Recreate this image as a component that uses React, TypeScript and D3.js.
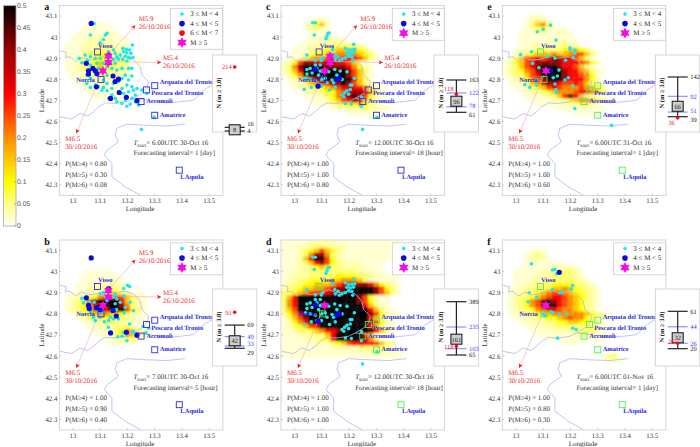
import * as React from "react"
import * as d3 from "d3"

type Pt = [number, number]

const lonTicks = [13, 13.1, 13.2, 13.3, 13.4, 13.5]
const latTicks = [42.3, 42.4, 42.5, 42.6, 42.7, 42.8, 42.9, 43, 43.1]
const barTicks = [0, 0.05, 0.1, 0.15, 0.2, 0.25, 0.3, 0.35, 0.4, 0.45, 0.5]
const barColors = ["#fffff2", "#ffff88", "#ffff00", "#ffc800", "#ff8c00", "#ff4600", "#ff0000", "#c80000", "#960000", "#500000", "#000000"]

// heat level per character of the grid rows below
const heatLevels: Record<string, number> = {
  ".": 0, "1": 0.016, "2": 0.035, "3": 0.06, "4": 0.1, "5": 0.15, "6": 0.2, "7": 0.25, "8": 0.3, "9": 0.4, "#": 0.5,
}

// rows run from lat 43.15 downwards, columns from lon 12.95, 0.02 deg per cell
const heatA = [
  "", "", "", "",
  ".....1111",
  "....111111",
  "...11111111",
  "..1112222211",
  "..11122222111",
  ".111222332221",
  ".111223333221",
  ".111233443322",
  ".112334443332.1",
  ".112334544433.1",
  ".112334544332",
  ".112234433322",
  "..11223332221",
  "..1122222221",
  "...111222111",
  "....11211111",
  ".....1111111",
  "......111111",
  "........1111",
]
const heatB = [
  "", "", "", "", "", "", "",
  ".....11111",
  "....1111111",
  "....11111111",
  "...1111222211",
  "...1122233321",
  "..1112233443211",
  ".112234678875321",
  ".123479####85321",
  ".123468####96321",
  ".12345788###7431",
  "..12345665543211",
  "...1233444332211",
  "....112233322111",
  ".....1122233321",
  "......11223465321",
  ".......1123465321",
  "........1122332",
  ".........1111",
]
const heatC = [
  "", "", "",
  ".....1221",
  "....12452",
  "....12321",
  ".....1111",
  ".....111211",
  "....11222222",
  "...1122233333321",
  "..111233445555431",
  "..1123445566665431",
  ".11235667888887531",
  "1247998899887531",
  "2369####999986421",
  "1358########97531",
  "1246########97531",
  ".123579######8531",
  ".1123567899#975321",
  "..11234456788886421",
  "...1122344678998531",
  "....111234689#97421",
  ".....11124578985321",
  "......1112344454321",
  ".........11122232211",
  "............1111111",
  "................11",
]
const heatD = [
  "1111122222111111111111",
  "1112223332221111111111",
  "11123457543211111111",
  "11123699632111111111",
  "111258##7422111111111",
  "1112358974322221111",
  "111223454332222111",
  "1122233333333322211",
  "1122233333444433221111",
  "122334444556665321111",
  "2233445556789999864321",
  "233455667899#####97431",
  "33456778899######97531",
  "358###########974211",
  "368###########974211",
  "368############85311",
  "357#############85311",
  "2468############974211",
  "13579###########85311",
  "12468###########97421",
  "1234578#########85311",
  "11233456889######8531",
  "1112223358#####85211",
  "111122234 8#####96311".replace(" ", ""),
  "111111222345788887532",
  "111111111222223333321",
  "11111111111111122222211",
  "1111111111111111111111",
]
const heatE = [
  "", "",
  ".....111",
  "....12321",
  "....135631",
  "....12342111",
  "...1112211211",
  "...1111111111",
  "...11111222211",
  "...11222222322",
  "..112233333455431",
  "..1234555655677531",
  ".13577878#9887531",
  "124578999998887642",
  "1235789###9887531",
  "1234679####98865321",
  "1233578####9887641",
  ".1234679###9888642",
  ".112356899877875321",
  "..11234578766676542",
  "...112234566678 86531".replace(" ", ""),
  "....11122358#85321",
  ".....1111223456654321",
  "......111111223321",
  "..........111111111",
  ".............1111",
]
const heatF = [
  "", "",
  ".....111",
  "....1232",
  "....12221",
  "....1111111",
  "...11111112221",
  "..1111122333321",
  "..1111222333321",
  "..11122233333321",
  "..112233344443321",
  ".11223334556543321",
  ".12233456776544321",
  ".12334567887654321",
  ".1234679#987654321",
  ".1234679##87654321",
  ".1233467887665432",
  ".1123345566666654321",
  "..112233445676 64321".replace(" ", ""),
  "...1122233445544321",
  "....111222333333321",
  ".....11112222333321",
  "......1111111222221",
  "........11111111111",
  "...........111",
  "",
  "....................1",
  "..................1331",
  "...................121",
]

const cyanA: Pt[] = [
  [13.078, 43.065], [13.064, 43.01], [13.119, 43.01], [13.125, 43.018], [13.112, 42.989], [13.1, 42.974], [13.183, 42.947],
  [13.196, 42.942], [13.208, 42.939], [13.218, 42.963], [13.186, 42.931], [13.198, 42.926], [13.213, 42.923], [13.192, 42.91],
  [13.204, 42.904], [13.22, 42.904], [13.183, 42.895], [13.198, 42.887], [13.21, 42.9], [13.174, 42.915], [13.161, 42.907],
  [13.149, 42.939], [13.131, 42.931], [13.137, 42.91], [13.155, 42.923], [13.167, 42.895], [13.149, 42.895], [13.137, 42.876],
  [13.155, 42.876], [13.125, 42.86], [13.1, 42.9], [13.088, 42.876], [13.082, 42.9], [13.064, 42.907], [13.045, 42.915],
  [13.054, 42.891], [13.023, 42.9], [13.033, 42.879], [13.064, 42.868], [13.076, 42.852], [13.094, 42.852], [13.112, 42.876],
  [13.112, 42.836], [13.125, 42.82], [13.143, 42.852], [13.161, 42.844], [13.18, 42.852], [13.204, 42.852], [13.216, 42.852],
  [13.192, 42.82], [13.18, 42.805], [13.204, 42.797], [13.216, 42.816], [13.167, 42.789], [13.149, 42.781], [13.125, 42.781],
  [13.112, 42.797], [13.088, 42.82], [13.064, 42.805], [13.051, 42.781], [13.064, 42.762], [13.082, 42.773], [13.094, 42.765],
  [13.106, 42.749], [13.125, 42.746], [13.143, 42.726], [13.155, 42.71], [13.131, 42.71], [13.167, 42.741], [13.18, 42.757],
  [13.198, 42.773], [13.216, 42.765], [13.186, 42.733], [13.204, 42.741], [13.222, 42.749], [13.235, 42.757], [13.253, 42.749],
  [13.271, 42.733], [13.229, 42.726], [13.216, 42.71], [13.192, 42.702], [13.18, 42.686], [13.198, 42.673], [13.21, 42.683],
  [13.229, 42.694], [13.241, 42.678], [13.161, 42.694], [13.143, 42.757], [13.112, 42.762], [13.251, 42.563], [13.298, 42.62],
  [13.051, 42.82],
]
const blueA: Pt[] = [
  [13.067, 43.065], [13.049, 42.876], [13.131, 42.915], [13.057, 42.841], [13.057, 42.825], [13.073, 42.852], [13.082, 42.841],
  [13.088, 42.828], [13.147, 42.816], [13.167, 42.801], [13.155, 42.79], [13.086, 42.765], [13.17, 42.738], [13.138, 42.71],
  [13.196, 42.715], [13.235, 42.699],
]
const cyanB: Pt[] = [
  [13.2, 42.935], [13.208, 42.93], [13.186, 42.92], [13.188, 42.884], [13.21, 42.855], [13.192, 42.83], [13.222, 42.815],
  [13.188, 42.805], [13.16, 42.82], [13.167, 42.776], [13.137, 42.784], [13.115, 42.763], [13.1, 42.784], [13.13, 42.737],
  [13.208, 42.752], [13.22, 42.716], [13.198, 42.705], [13.186, 42.713], [13.164, 42.692], [13.18, 42.694], [13.198, 42.673],
  [13.222, 42.713], [13.235, 42.705], [13.268, 42.71], [13.257, 42.741], [13.278, 42.732], [13.051, 42.879], [13.033, 42.874],
  [13.039, 42.852], [13.06, 42.855], [13.078, 42.855], [13.066, 42.808], [13.076, 42.784], [13.082, 42.768], [13.057, 42.824],
  [13.094, 42.808], [13.112, 42.808], [13.1, 42.895], [13.112, 42.9], [13.155, 42.894], [13.149, 42.879], [13.161, 42.871],
  [13.125, 42.863], [13.155, 42.848], [13.174, 42.855], [13.119, 42.879], [13.082, 42.832], [13.143, 42.816], [13.131, 42.768],
  [13.149, 42.776],
]
const blueB: Pt[] = [
  [13.067, 43.065], [13.049, 42.876], [13.131, 42.92], [13.057, 42.84], [13.06, 42.825], [13.086, 42.83], [13.1, 42.82],
  [13.147, 42.816], [13.159, 42.79], [13.138, 42.71], [13.196, 42.713], [13.235, 42.699],
]
// c and d share one start time and interval, so one catalogue
const cyanCD: Pt[] = [
  [13.066, 43.068], [13.076, 43.068], [13.072, 43.01], [13.122, 43.018], [13.127, 43.02], [13.119, 43.005], [13.115, 42.993],
  [13.045, 42.915], [13.139, 42.942], [13.216, 42.966], [13.186, 42.947], [13.198, 42.939], [13.21, 42.94], [13.22, 42.942],
  [13.192, 42.926], [13.204, 42.923], [13.216, 42.926], [13.198, 42.91], [13.21, 42.907], [13.186, 42.9], [13.174, 42.895],
  [13.159, 42.907], [13.147, 42.915], [13.164, 42.888], [13.149, 42.895], [13.213, 42.888], [13.076, 42.89], [13.076, 42.868],
  [13.098, 42.89], [13.103, 42.9], [13.094, 42.868], [13.045, 42.847], [13.057, 42.852], [13.082, 42.852], [13.045, 42.825],
  [13.064, 42.83], [13.088, 42.82], [13.094, 42.84], [13.1, 42.8], [13.076, 42.794], [13.057, 42.8], [13.04, 42.805],
  [13.061, 42.762], [13.082, 42.768], [13.035, 42.752], [13.098, 42.768], [13.119, 42.784], [13.112, 42.805], [13.125, 42.836],
  [13.147, 42.847], [13.167, 42.84], [13.128, 42.75], [13.149, 42.762], [13.143, 42.784], [13.137, 42.797], [13.155, 42.82],
  [13.174, 42.8], [13.192, 42.836], [13.219, 42.805], [13.204, 42.773], [13.21, 42.773], [13.192, 42.746], [13.183, 42.737],
  [13.174, 42.726], [13.204, 42.752], [13.198, 42.73], [13.18, 42.718], [13.186, 42.686], [13.208, 42.683], [13.249, 42.563],
  [13.302, 42.62], [13.245, 42.716], [13.245, 42.673],
]
const blueC: Pt[] = [[13.086, 42.768], [13.076, 42.847], [13.155, 42.8], [13.164, 42.805]]
const blueD: Pt[] = [[13.076, 42.843], [13.086, 42.765], [13.155, 42.795], [13.164, 42.8]]
const cyanE: Pt[] = [
  [13.127, 43.057], [13.1, 43.037], [13.078, 43.026], [13.147, 42.986], [13.198, 42.95], [13.199, 42.942], [13.216, 42.939],
  [13.216, 42.923], [13.21, 42.904], [13.182, 42.891], [13.143, 42.9], [13.115, 42.907], [13.057, 42.931], [13.017, 42.918],
  [13.061, 42.876], [13.084, 42.855], [13.158, 42.844], [13.152, 42.816], [13.137, 42.808], [13.192, 42.808], [13.18, 42.797],
  [13.076, 42.797], [13.076, 42.773], [13.033, 42.775], [13.051, 42.762], [13.143, 42.778], [13.146, 42.752], [13.149, 42.738],
  [13.208, 42.77], [13.216, 42.662], [13.351, 42.582],
]
const blueE: Pt[] = [[13.128, 42.841]]
const cyanF: Pt[] = [
  [13.057, 43.037], [13.134, 43.008], [13.143, 43.01], [13.149, 42.989], [13.208, 42.934], [13.202, 42.918], [13.134, 42.914],
  [13.161, 42.9], [13.17, 42.903], [13.049, 42.9], [13.045, 42.857], [13.076, 42.877], [13.1, 42.798], [13.106, 42.792],
  [13.128, 42.81], [13.136, 42.805], [13.159, 42.8], [13.186, 42.8], [13.208, 42.732], [13.221, 42.726], [13.153, 42.685],
]
const blueF: Pt[] = [[13.159, 42.997]]
const starsThree: Pt[] = [[13.13, 42.91], [13.13, 42.88], [13.11, 42.84]]
const starsOne: Pt[] = [[13.11, 42.84]]

const borderNorth: Pt[] = [
  [12.951, 42.936], [12.976, 42.928], [12.972, 42.904], [12.99, 42.907], [13.009, 42.884], [13.033, 42.904], [13.057, 42.891],
  [13.088, 42.895], [13.125, 42.915], [13.155, 42.899], [13.192, 42.907], [13.222, 42.895], [13.247, 42.86], [13.253, 42.82],
  [13.278, 42.789], [13.271, 42.757], [13.253, 42.733], [13.222, 42.71], [13.198, 42.694], [13.155, 42.686], [13.119, 42.689],
  [13.094, 42.67], [13.076, 42.647], [13.054, 42.626], [13.027, 42.639], [12.996, 42.612], [12.951, 42.623],
]
const borderEast: Pt[] = [
  [13.222, 42.71], [13.271, 42.702], [13.345, 42.689], [13.394, 42.694], [13.443, 42.702], [13.479, 42.749], [13.51, 42.773],
]
const borderSouth: Pt[] = [
  [13.41, 42.588], [13.345, 42.579], [13.259, 42.583], [13.198, 42.588], [13.161, 42.568], [13.155, 42.536], [13.167, 42.504],
  [13.125, 42.465], [13.115, 42.441], [13.143, 42.402], [13.143, 42.339], [13.192, 42.291], [13.247, 42.252],
]

const townNames = ["Visso", "Norcia", "Arquata del Tronto", "Pescara del Tronto", "Accumoli", "Amatrice", "LAquila"]
const townLons = [13.09, 13.103, 13.3, 13.27, 13.25, 13.3, 13.39]
const townLats = [42.93, 42.8, 42.77, 42.75, 42.695, 42.63, 42.37]
const townLabelLons = [13.092, 13.012, 13.318, 13.287, 13.269, 13.318, 13.394]
const townLabelLats = [42.95, 42.789, 42.778, 42.726, 42.686, 42.623, 42.33]

const shockNames = ["M5.9", "M5.4", "M6.5"]
const shockDates = ["26/10/2016", "26/10/2016", "30/10/2016"]
const shockFrom: Pt[] = [[13.131, 42.915], [13.131, 42.885], [13.103, 42.82]]
const shockTo: Pt[] = [[13.229, 43.057], [13.324, 42.88], [13.012, 42.544]]
const shockLabel: Pt[] = [[13.241, 43.078], [13.33, 42.89], [12.972, 42.51]]

const startTimes = ["6.00UTC 30-Oct 16", "7.00UTC 30-Oct 16", "12.00UTC 30-Oct 16", "12.00UTC 30-Oct 16", "6.00UTC 31-Oct 16", "6.00UTC 01-Nov 16"]
const intervals = ["1 [day]", "5 [hour]", "18 [hour]", "18 [hour]", "1 [day]", "1 [day]"]
const probM4 = ["0.80", "1.00", "1.00", "1.00", "1.00", "1.00"]
const probM5 = ["0.30", "0.90", "1.00", "1.00", "1.00", "0.80"]
const probM6 = ["0.08", "0.40", "0.80", "1.00", "0.60", "0.30"]

// inset: whisker ends, blue percentiles, box label, observed count
const capHigh = [16, 69, 163, 389, 142, 61]
const capLow = [4, 29, 61, 65, 39, 20]
const bandHigh = [null, 49, 122, 235, 92, 44]
const bandLow = [null, 33, 78, 103, 51, 26]
const medians = [8, 42, 96, 161, 66, 32]
const observed = [214, 91, 118, 118, 36, 26]
const insetDomains: Pt[] = [[4, 214], [29, 91], [61, 163], [65, 389], [39, 142], [20, 61]]

const cyanSets = [cyanA, cyanB, cyanCD, cyanCD, cyanE, cyanF]
const blueSets = [blueA, blueB, blueC, blueD, blueE, blueF]
const starSets = [starsThree, starsThree, starsThree, starsOne, starsOne, starsOne]
const heatSets = [heatA, heatB, heatC, heatD, heatE, heatF]
const shockSets = [[0, 1, 2], [0, 1, 2], [0, 1, 2], [2], [2], [2]]

const letters = ["a", "b", "c", "d", "e", "f"]
const originsX = [59.3, 59.3, 281, 281, 502.3, 502.3]
const originsY = [5.5, 240, 5.5, 240, 5.5, 240]
const insetRanges: Pt[] = [[76, 12], [59.3, 23.3], [57.3, 25], [66, 12.7], [61.7, 22], [59.7, 22.3]]
const redLabelDy = [2.3, 2.3, -3.4, 2.3, 7.6, 1]
const lowLabelDy = [2.3, 6.4, 4.2, 2.3, 4.8, 2.3]
const highLabelDy = [-1.6, 2.3, 2.3, 2.3, 2.3, 2.3]
const bandLowDy = [0, -0.2, 1.4, 2.3, 1.2, 2.3]
const squareColors = ["#2a2ae6", "#2a2ae6", "#2a2ae6", "#4ef04e", "#4ef04e", "#4ef04e"]

const W = 163.6
const H = 190
const serif = "'Liberation Serif', serif"
const sans = "'Liberation Sans', sans-serif"
const heatColor = d3.scaleLinear<string>().domain(barTicks).range(barColors).clamp(true)

function starPath(cx: number, cy: number, r: number) {
  // six pointed marker, matlab hexagram style
  const pts = d3.range(12).map((i) => {
    const a = (i * Math.PI) / 6 - Math.PI / 2
    const rad = i % 2 === 0 ? r : r * 0.55
    return [cx + rad * Math.cos(a), cy + rad * Math.sin(a)] as Pt
  })
  return d3.line()(pts) + "Z"
}

function Legend({ index }: { index: number }) {
  const rows = index === 0
    ? ["3 ≤ M < 4", "4 ≤ M < 5", "6 ≤ M < 7", "M ≥ 5"]
    : ["3 ≤ M < 4", "4 ≤ M < 5", "M ≥ 5"]
  const step = 9.5
  return (
    <g transform="translate(111.3,2.8)">
      <rect width={52} height={rows.length === 4 ? 41 : 32} fill="#fff" stroke="#ccc" strokeWidth={0.8} />
      {rows.map((label, i) => {
        const y = 5.8 + i * step
        return (
          <g key={label}>
            {label.startsWith("3") && <circle cx={11.4} cy={y} r={1.8} fill="#1ee6ee" />}
            {label.startsWith("4") && <circle cx={11.4} cy={y} r={2.8} fill="#0a0ae0" />}
            {label.startsWith("6") && <circle cx={11.4} cy={y} r={2.8} fill="#f01010" />}
            {label.startsWith("M") && <path d={starPath(11.4, y, 5.5)} fill="#f010e0" />}
            <text x={19.7} y={y + 2.4} fontSize={7} fontFamily={serif} fill="#222">{label}</text>
          </g>
        )
      })}
    </g>
  )
}

function Inset({ index }: { index: number }) {
  const y = d3.scaleLinear().domain(insetDomains[index]).range(insetRanges[index])
  const cx = 22.4
  const hi = bandHigh[index]
  const lo = bandLow[index]
  return (
    <g transform={`translate(153,${index % 2 === 0 ? 49.5 : 49})`}>
      <rect width={44.5} height={77} fill="#fff" stroke="#ccc" strokeWidth={0.8} />
      <text transform="translate(9,38) rotate(-90)" textAnchor="middle" fontSize={6.5} fontWeight="bold" fontFamily={serif} fill="#222">
        N (m ≥ 3.0)
      </text>
      {[hi, lo].map((v, i) => v === null ? null : (
        <g key={i}>
          <line x1={cx - 10} x2={cx + 10} y1={y(v)} y2={y(v)} stroke="#7a7aff" strokeWidth={1} />
          <text x={cx + 12.5} y={y(v) + (i === 0 ? 2.3 : bandLowDy[index])} fontSize={6.5} fontFamily={serif} fill="#3a3aff">{v}</text>
        </g>
      ))}
      <line x1={cx} x2={cx} y1={y(capHigh[index])} y2={y(capLow[index])} stroke="#222" strokeWidth={1.2} />
      {[capHigh[index], capLow[index]].map((v, i) => (
        <g key={i}>
          <line x1={cx - 10} x2={cx + 10} y1={y(v)} y2={y(v)} stroke="#222" strokeWidth={1.2} />
          <text x={cx + 12.5} y={y(v) + (i === 0 ? highLabelDy[index] : lowLabelDy[index])} fontSize={6.5} fontFamily={serif} fill="#222">{v}</text>
        </g>
      ))}
      <rect x={cx - 5.5} y={y(medians[index]) - 5} width={11} height={10} fill="#cfcfcf" stroke="#222" strokeWidth={1.1} />
      <text x={cx} y={y(medians[index]) + 2.3} textAnchor="middle" fontSize={6.5} fontFamily={serif} fill="#222">{medians[index]}</text>
      <circle cx={cx} cy={y(observed[index])} r={1.8} fill="#f01010" />
      <text x={cx - 3} y={y(observed[index]) + redLabelDy[index]} textAnchor="end" fontSize={6.5} fontFamily={serif} fill="#f02020">{observed[index]}</text>
    </g>
  )
}

function Panel({ index }: { index: number }) {
  const x = d3.scaleLinear().domain([12.95, 13.55]).range([0, W])
  const y = d3.scaleLinear().domain([42.25, 43.15]).range([H, 0])
  const line = d3.line<Pt>().x((d) => x(d[0])).y((d) => y(d[1]))
  const clipId = `clip-${letters[index]}`
  const heatRows = heatSets[index]
  const cellW = x(12.97) - x(12.95)
  const cellH = y(42.25) - y(42.27)

  return (
    <g transform={`translate(${originsX[index]},${originsY[index]})`}>
      <defs>
        <clipPath id={clipId}><rect width={W} height={H} /></clipPath>
      </defs>
      <g clipPath={`url(#${clipId})`}>
        <g filter="url(#soft)">
          {heatRows.flatMap((row, r) =>
            row.split("").map((ch, c) =>
              heatLevels[ch] > 0 ? (
                <rect
                  key={`${r}-${c}`}
                  x={x(12.95 + c * 0.02)}
                  y={y(43.15 - r * 0.02)}
                  width={cellW + 0.2}
                  height={cellH + 0.2}
                  fill={heatColor(heatLevels[ch])}
                />
              ) : null
            )
          )}
        </g>
        {[borderNorth, borderEast, borderSouth].map((b, i) => (
          <path key={i} d={line(b) ?? ""} fill="none" stroke="#b4b4f4" strokeWidth={0.8} />
        ))}
      </g>
      <rect width={W} height={H} fill="none" stroke="#ccc" strokeWidth={0.8} />
      {lonTicks.map((t) => (
        <g key={t}>
          <line x1={x(t)} x2={x(t)} y1={H} y2={H - 1.8} stroke="#aaa" strokeWidth={0.6} />
          <text x={x(t)} y={H + 7.6} textAnchor="middle" fontSize={6.8} fontFamily={serif} fill="#333">{t}</text>
        </g>
      ))}
      {latTicks.map((t) => (
        <g key={t}>
          <line x1={0} x2={1.8} y1={y(t)} y2={y(t)} stroke="#aaa" strokeWidth={0.6} />
          <text x={-2} y={y(t) + 2.4} textAnchor="end" fontSize={6.8} fontFamily={serif} fill="#333">{t}</text>
        </g>
      ))}
      <text x={W / 2 - 1} y={H + 15.5} textAnchor="middle" fontSize={7} fontFamily={serif} fill="#333">Longitude</text>
      <text transform={`translate(${-15.5},${H / 2}) rotate(-90)`} textAnchor="middle" fontSize={7} fontFamily={serif} fill="#333">Latitude</text>
      <text x={-15} y={4.5} fontSize={10} fontWeight="bold" fontFamily={serif} fill="#111">{letters[index]}</text>

      {shockSets[index].map((s) => {
        const x2 = x(shockTo[s][0])
        const y2 = y(shockTo[s][1])
        const angle = (Math.atan2(y2 - y(shockFrom[s][1]), x2 - x(shockFrom[s][0])) * 180) / Math.PI
        return (
          <g key={s}>
            <line x1={x(shockFrom[s][0])} y1={y(shockFrom[s][1])} x2={x2} y2={y2} stroke="#f6b4b4" strokeWidth={0.7} />
            <path d="M0,0L-4.5,-2.2L-3.2,0L-4.5,2.2Z" transform={`translate(${x2},${y2}) rotate(${angle})`} fill="#f01818" />
            <text x={x(shockLabel[s][0])} y={y(shockLabel[s][1])} fontSize={7} fontFamily={serif} fill="#f02828">{shockNames[s]}</text>
            <text x={x(shockLabel[s][0])} y={y(shockLabel[s][1]) + 8} fontSize={7} fontFamily={serif} fill="#f02828">{shockDates[s]}</text>
          </g>
        )
      })}

      {cyanSets[index].map((d, i) => <circle key={i} cx={x(d[0])} cy={y(d[1])} r={1.8} fill="#1ee6ee" />)}
      {blueSets[index].map((d, i) => <circle key={i} cx={x(d[0])} cy={y(d[1])} r={2.6} fill="#0a0ae0" />)}
      {starSets[index].map((d, i) => <path key={i} d={starPath(x(d[0]), y(d[1]), 5)} fill="#f010e0" />)}

      {townNames.map((name, i) => (
        <g key={name}>
          <rect
            x={x(townLons[i]) - 3}
            y={y(townLats[i]) - 3}
            width={6}
            height={6}
            fill="none"
            stroke={squareColors[index]}
            strokeWidth={0.9}
          />
          <text x={x(townLabelLons[i])} y={y(townLabelLats[i])} fontSize={6.5} fontWeight="bold" fontFamily={serif} fill="#2828e0">{name}</text>
        </g>
      ))}

      <text x={x(13.222)} y={y(42.49)} fontSize={7} fontFamily={serif} fill="#333">
        <tspan fontStyle="italic">T</tspan>
        <tspan dy={1.8} fontSize={5.2}>start</tspan>
        <tspan dy={-1.8}>= {startTimes[index]}</tspan>
      </text>
      <text x={x(13.222)} y={y(42.44)} fontSize={7} fontFamily={serif} fill="#333">Forecasting interval= {intervals[index]}</text>
      <text x={x(12.972)} y={y(42.39)} fontSize={7} fontFamily={serif} fill="#333">P(M≥4) = {probM4[index]}</text>
      <text x={x(12.972)} y={y(42.339)} fontSize={7} fontFamily={serif} fill="#333">P(M≥5) = {probM5[index]}</text>
      <text x={x(12.972)} y={y(42.288)} fontSize={7} fontFamily={serif} fill="#333">P(M≥6) = {probM6[index]}</text>

      <Legend index={index} />
      <Inset index={index} />
    </g>
  )
}

function ColorBar() {
  const top = 5.7
  const bottom = 226
  const y = d3.scaleLinear().domain([0, 0.5]).range([bottom, top])
  return (
    <g>
      <defs>
        <linearGradient id="barGrad" x1="0" y1="1" x2="0" y2="0">
          {barTicks.map((t, i) => <stop key={t} offset={t / 0.5} stopColor={barColors[i]} />)}
        </linearGradient>
      </defs>
      <rect x={3.5} y={top} width={12.5} height={bottom - top} fill="url(#barGrad)" stroke="#aaa" strokeWidth={0.8} />
      {barTicks.map((t) => (
        <g key={t}>
          <line x1={14.2} x2={16} y1={y(t)} y2={y(t)} stroke="#777" strokeWidth={0.5} />
          <text x={17} y={y(t) + 2.4} fontSize={6.8} fontFamily={sans} fill="#555">{t}</text>
        </g>
      ))}
    </g>
  )
}

export default function App() {
  return (
    <svg
      width={700}
      height={447}
      textRendering="geometricPrecision"
      style={{ position: "absolute", left: 0, top: 0, background: "#fff" }}
    >
      <defs>
        <filter id="soft" x="-5%" y="-5%" width="110%" height="110%">
          <feGaussianBlur stdDeviation={1.1} />
        </filter>
      </defs>
      <ColorBar />
      {letters.map((_l, i) => <Panel key={i} index={i} />)}
    </svg>
  )
}
